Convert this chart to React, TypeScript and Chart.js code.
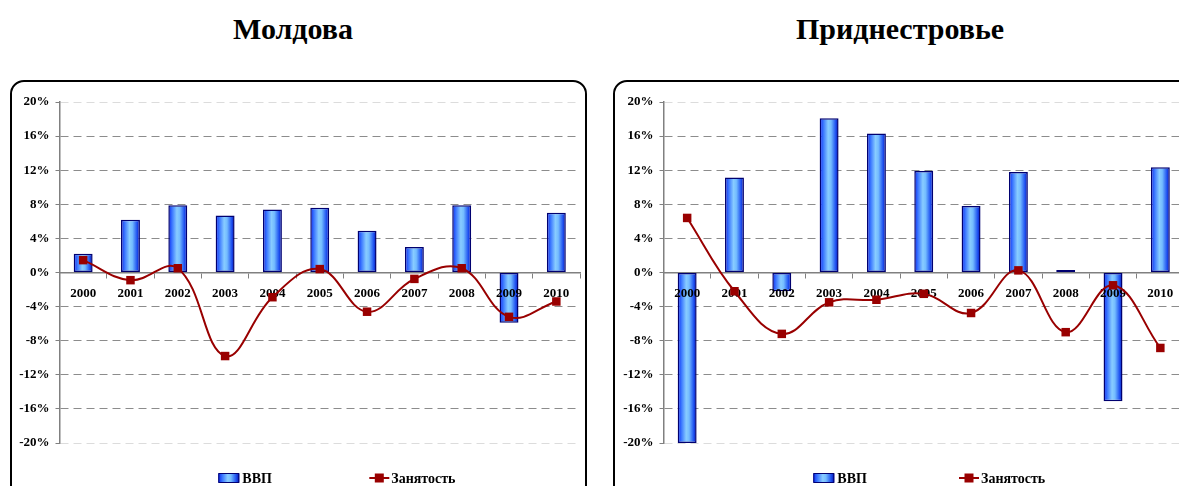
import React, { useEffect, useRef } from 'react';
import { Chart, registerables } from 'chart.js';

Chart.register(...registerables);

// ---------- data ----------
const years = ['2000', '2001', '2002', '2003', '2004', '2005', '2006', '2007', '2008', '2009', '2010'];
const moldovaGdp = [2.2, 6.2, 7.9, 6.7, 7.4, 7.6, 4.9, 3.0, 7.9, -5.9, 7.0];
const moldovaEmployment = [1.45, -0.9, 0.5, -9.8, -2.9, 0.4, -4.6, -0.75, 0.5, -5.2, -3.4];
const pmrGdp = [-20.0, 11.15, -2.2, 18.1, 16.3, 11.9, 7.8, 11.8, 0.3, -15.1, 12.35];
const pmrEmployment = [6.4, -2.2, -7.2, -3.5, -3.2, -2.5, -4.75, 0.25, -7.0, -1.5, -8.85];
const yMin = -20;
const yMax = 20;
const yStep = 4;
const titles = ['Молдова', 'Приднестровье'];
const legendLabels = ['ВВП', 'Занятость'];

const FONT = "'Liberation Serif', 'Times New Roman', serif";
const LINE_COLOR = '#990000';

function addBarStops(g: CanvasGradient) {
  g.addColorStop(0, '#0a28f0');
  g.addColorStop(0.2, '#3c78ff');
  g.addColorStop(0.45, '#88ccff');
  g.addColorStop(0.6, '#74bcff');
  g.addColorStop(0.85, '#1e50f0');
  g.addColorStop(1, '#0010b0');
}

const legendPlugin = {
  id: 'customLegend',
  beforeDatasetDraw(chart: any, args: any) {
    // the line is drawn later, above the axis labels
    if (args.meta.type === 'line') return false;
    return true;
  },
  afterDraw(chart: any, _args: any, opts: any) {
    const { ctx, chartArea } = chart;
    // draw line dataset on top
    chart.data.datasets.forEach((_d: any, i: number) => {
      const meta = chart.getDatasetMeta(i);
      if (meta.type === 'line' && meta.controller) meta.controller.draw();
    });
    const y = chartArea.bottom + opts.dy;
    ctx.save();
    // bar item
    const x1 = chartArea.left + opts.x1;
    const g = ctx.createLinearGradient(x1, 0, x1 + 21, 0);
    addBarStops(g);
    ctx.fillStyle = g;
    ctx.fillRect(x1, y - 4.5, 21, 9);
    ctx.strokeStyle = '#000070';
    ctx.lineWidth = 1;
    ctx.strokeRect(x1 + 0.5, y - 4.5, 20, 9);
    ctx.fillStyle = '#000';
    ctx.font = `bold 14px ${FONT}`;
    ctx.textBaseline = 'middle';
    ctx.textAlign = 'left';
    ctx.fillText(legendLabels[0], x1 + 24, y + 1);
    // line item
    const x2 = chartArea.left + opts.x2;
    ctx.strokeStyle = LINE_COLOR;
    ctx.lineWidth = 2;
    ctx.beginPath();
    ctx.moveTo(x2, y);
    ctx.lineTo(x2 + 20, y);
    ctx.stroke();
    ctx.fillStyle = LINE_COLOR;
    ctx.fillRect(x2 + 10 - 4.5, y - 4.5, 9, 9);
    ctx.fillStyle = '#000';
    ctx.fillText(legendLabels[1], x2 + 22, y + 1);
    ctx.restore();
  },
};

function makeConfig(gdp: number[], emp: number[], legendX1: number, legendX2: number): any {
  const n = years.length;
  return {
    data: {
      labels: years,
      datasets: [
        {
          type: 'line',
          label: legendLabels[1],
          data: emp,
          borderColor: LINE_COLOR,
          borderWidth: 2,
          tension: 0.4,
          pointStyle: 'rect',
          pointRadius: 6,
          pointBackgroundColor: LINE_COLOR,
          pointBorderColor: LINE_COLOR,
          pointBorderWidth: 0,
          order: 0,
        },
        {
          type: 'bar',
          label: legendLabels[0],
          data: gdp,
          barPercentage: 0.4,
          categoryPercentage: 1.0,
          borderColor: '#000070',
          borderWidth: 1.5,
          borderSkipped: false,
          order: 1,
          backgroundColor: (c: any) => {
            const chart = c.chart;
            const xs = chart.scales && chart.scales.x;
            if (!xs || c.dataIndex === undefined) return '#5aa0ff';
            const x = xs.getPixelForValue(c.dataIndex);
            const w = (xs.width / n) * 0.4;
            if (!isFinite(x) || !isFinite(w) || w <= 0) return '#5aa0ff';
            const g = chart.ctx.createLinearGradient(x - w / 2, 0, x + w / 2, 0);
            addBarStops(g);
            return g;
          },
        },
      ],
    },
    options: {
      responsive: false,
      animation: false,
      devicePixelRatio: 1,
      layout: { padding: { left: 9.5, right: 12, top: 22, bottom: 57 } },
      plugins: {
        legend: { display: false },
        tooltip: { enabled: false },
        customLegend: { x1: legendX1, x2: legendX2, dy: 35 },
      },
      scales: {
        x: {
          type: 'category',
          position: { y: 0 },
          offset: true,
          grid: {
            drawOnChartArea: false,
            drawTicks: true,
            tickLength: 5,
            tickColor: '#808080',
            tickWidth: 1,
            offset: true,
          },
          border: { color: '#808080', width: 1.5 },
          ticks: {
            z: 1,
            font: { family: FONT, size: 13, weight: 'bold' },
            color: '#000',
            padding: 8,
            maxRotation: 0,
            autoSkip: false,
          },
        },
        y: {
          min: yMin,
          max: yMax,
          afterFit: (s: any) => {
            s.width = 50;
          },
          grid: {
            color: (c: any) => {
              const v = c.tick ? c.tick.value : null;
              if (v === 0) return 'rgba(0,0,0,0)';
              if (v === yMax || v === yMin) return '#dcdcdc';
              return '#8c8c8c';
            },
            lineWidth: 1,
            drawTicks: true,
            tickLength: 4,
            tickColor: '#808080',
            tickWidth: 1,
          },
          border: { color: '#808080', width: 1.5, dash: [8, 5] },
          ticks: {
            stepSize: yStep,
            font: { family: FONT, size: 13, weight: 'bold' },
            color: '#000',
            padding: 6,
            callback: (v: any) => `${v}%`,
          },
        },
      },
    },
    plugins: [legendPlugin],
  };
}

function ChartCanvas(props: { gdp: number[]; emp: number[]; left: number; lx1: number; lx2: number }) {
  const ref = useRef<HTMLCanvasElement | null>(null);
  useEffect(() => {
    if (!ref.current) return;
    const chart = new Chart(ref.current, makeConfig(props.gdp, props.emp, props.lx1, props.lx2));
    chart.update();
    return () => chart.destroy();
  }, []);
  return (
    <canvas
      ref={ref}
      width={592}
      height={420}
      style={{ position: 'absolute', left: props.left, top: 80, width: 592, height: 420 }}
    />
  );
}

export default function App() {
  const titleStyle: React.CSSProperties = {
    position: 'absolute',
    top: 14,
    width: 400,
    textAlign: 'center',
    fontFamily: FONT,
    fontWeight: 'bold',
    fontSize: 30,
    lineHeight: '30px',
    color: '#000',
    whiteSpace: 'nowrap',
  };
  const panelStyle: React.CSSProperties = {
    position: 'absolute',
    top: 80,
    height: 460,
    border: '2px solid #000',
    borderRadius: 14,
    boxSizing: 'border-box',
    background: '#fff',
  };
  return (
    <div
      style={{
        position: 'fixed',
        left: 0,
        top: 0,
        width: 1179,
        height: 486,
        overflow: 'hidden',
        background: '#fff',
      }}
    >
      <div style={{ ...titleStyle, left: 293 - 200 }}>{titles[0]}</div>
      <div style={{ ...titleStyle, left: 900 - 200 }}>{titles[1]}</div>
      <div style={{ ...panelStyle, left: 10, width: 577 }} />
      <div style={{ ...panelStyle, left: 613, width: 620 }} />
      <ChartCanvas gdp={moldovaGdp} emp={moldovaEmployment} left={0} lx1={158.8} lx2={309.8} />
      <ChartCanvas gdp={pmrGdp} emp={pmrEmployment} left={604} lx1={149.8} lx2={295.5} />
    </div>
  );
}
